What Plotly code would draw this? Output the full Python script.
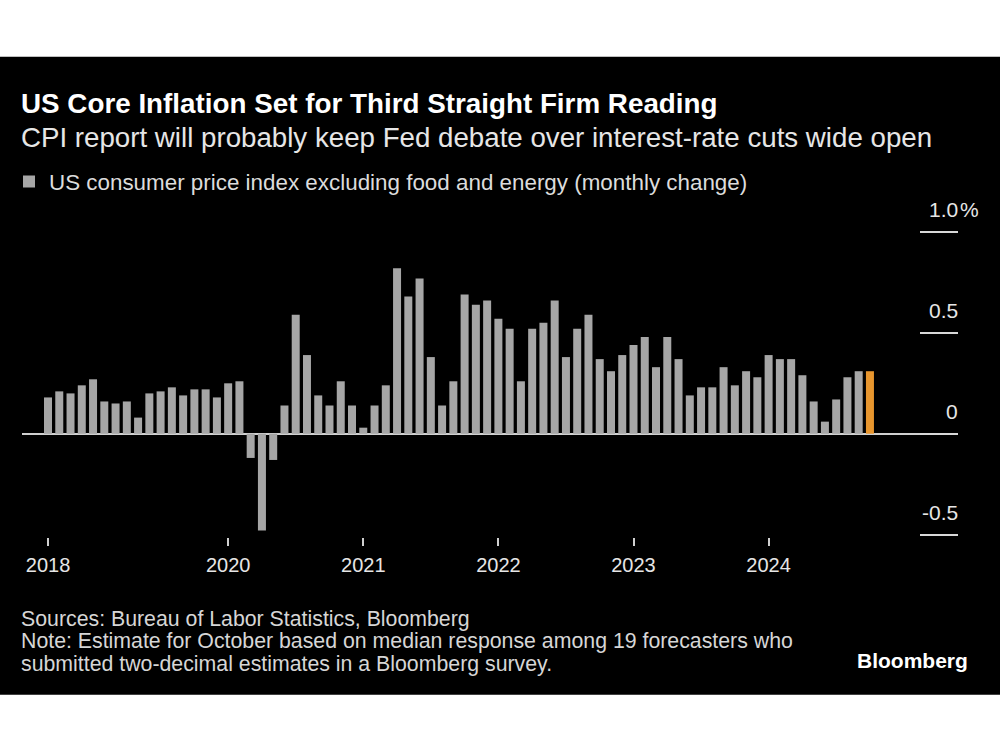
import pandas as pd
import plotly.graph_objects as go

# ---------------- data ----------------
start_month = "2018-09"
end_month = "2024-10"
months = [p.strftime("%Y-%m") for p in pd.period_range(start_month, end_month, freq="M")]

core_cpi_mom = [
    0.18, 0.21, 0.20, 0.24,                                              # 2018 Sep-Dec
    0.27, 0.16, 0.15, 0.16, 0.08, 0.20, 0.21, 0.23, 0.19, 0.22, 0.22, 0.18,  # 2019
    0.25, 0.26, -0.12, -0.48, -0.13, 0.14, 0.59, 0.39, 0.19, 0.14, 0.26, 0.14,  # 2020
    0.03, 0.14, 0.24, 0.82, 0.68, 0.77, 0.38, 0.14, 0.26, 0.69, 0.64, 0.66,  # 2021
    0.57, 0.52, 0.26, 0.52, 0.55, 0.66, 0.38, 0.52, 0.59, 0.37, 0.31, 0.39,  # 2022
    0.44, 0.48, 0.33, 0.48, 0.37, 0.19, 0.23, 0.23, 0.33, 0.24, 0.31, 0.28,  # 2023
    0.39, 0.37, 0.37, 0.29, 0.16, 0.06, 0.17, 0.28, 0.31, 0.31,              # 2024 Jan-Oct
]
estimate_month = "2024-10"

x_tick_months = ["2018-09", "2020-01", "2021-01", "2022-01", "2023-01", "2024-01"]
x_tick_labels = ["2018", "2020", "2021", "2022", "2023", "2024"]
y_tick_vals = [-0.5, 0, 0.5, 1.0]
y_tick_labels = ["-0.5", "0", "0.5", "1.0"]
y_unit = "%"

title = "US Core Inflation Set for Third Straight Firm Reading"
subtitle = "CPI report will probably keep Fed debate over interest-rate cuts wide open"
legend_name = "US consumer price index excluding food and energy (monthly change)"
source_lines = [
    "Sources: Bureau of Labor Statistics, Bloomberg",
    "Note: Estimate for October based on median response among 19 forecasters who",
    "submitted two-decimal estimates in a Bloomberg survey.",
]
logo = "Bloomberg"

# ---------------- style ----------------
GRAY = "#a6a6a6"
ORANGE = "#e8962e"
FONT = "Liberation Sans"
W, H = 1000, 750
ML, MR, MT, MB = 22, 42, 226.5, 213
plot_w = W - ML - MR
plot_h = H - MT - MB


def px_x(px):
    return (px - ML) / plot_w


def px_y(py):
    return (H - MB - py) / plot_h


colors = [ORANGE if m == estimate_month else GRAY for m in months]

fig = go.Figure()
fig.add_trace(go.Bar(
    x=months,
    y=core_cpi_mom,
    marker=dict(color=colors, line=dict(width=0)),
    name=legend_name,
    showlegend=True,
    hoverinfo="x+y",
))

n = len(months)
fig.update_layout(
    width=W, height=H,
    margin=dict(l=ML, r=MR, t=MT, b=MB, pad=0, autoexpand=False),
    paper_bgcolor="white",
    plot_bgcolor="black",
    bargap=0.29,
    font=dict(family=FONT, color="#e6e6e6"),
    showlegend=True,
    legend=dict(
        xref="container", yref="container",
        x=9 / W, y=1 - 182 / H, xanchor="left", yanchor="middle",
        font=dict(size=22.4, color="#dcdcdc", family=FONT),
        bgcolor="rgba(0,0,0,0)", itemclick=False, itemdoubleclick=False,
    ),
    xaxis=dict(
        type="category",
        categoryorder="array", categoryarray=months,
        range=[-2.31, n - 1 + 7.82],
        tickmode="array", tickvals=x_tick_months, ticktext=x_tick_labels,
        ticks="outside", ticklen=8, tickwidth=1.5, tickcolor="#d0d0d0",
        tickfont=dict(size=20, color="#e6e6e6", family=FONT),
        ticklabelstandoff=2,
        showgrid=False, showline=False, zeroline=False,
    ),
    yaxis=dict(
        range=[-0.512, 1.025],
        side="right",
        tickmode="array", tickvals=y_tick_vals,
        ticks="inside", ticklen=38, tickwidth=1.5, tickcolor="#d8d8d8",
        showticklabels=False,
        showgrid=False, showline=False,
        zeroline=True, zerolinecolor="#cfcfcf", zerolinewidth=2,
    ),
)

# black backdrop band
fig.add_shape(type="rect", xref="paper", yref="paper",
              x0=px_x(-5), x1=px_x(W + 5), y0=px_y(695), y1=px_y(56),
              fillcolor="black", line=dict(width=0), layer="below")

ann = []
# y tick labels
for v, lab in zip(y_tick_vals, y_tick_labels):
    ann.append(dict(x=1, xref="paper", y=v, yref="y", text=lab, showarrow=False,
                    xanchor="right", yanchor="bottom", yshift=9, xshift=2,
                    font=dict(size=21, color="#e6e6e6", family=FONT)))
# unit on top tick
ann.append(dict(x=1, xref="paper", y=max(y_tick_vals), yref="y", text=y_unit, showarrow=False,
                xanchor="left", yanchor="bottom", yshift=9, xshift=0,
                font=dict(size=21, color="#e6e6e6", family=FONT)))

ann.append(dict(x=px_x(19), y=px_y(103), xref="paper", yref="paper", text="<b>" + title + "</b>",
                showarrow=False, xanchor="left", yanchor="middle",
                font=dict(size=27.8, color="white", family=FONT)))
ann.append(dict(x=px_x(19), y=px_y(137), xref="paper", yref="paper", text=subtitle,
                showarrow=False, xanchor="left", yanchor="middle",
                font=dict(size=27.7, color="#e6e6e6", family=FONT)))
for i, line in enumerate(source_lines):
    ann.append(dict(x=px_x(19), y=px_y(619 + 22.5 * i), xref="paper", yref="paper", text=line,
                    showarrow=False, xanchor="left", yanchor="middle",
                    font=dict(size=21.3, color="#d6d6d6", family=FONT)))
ann.append(dict(x=px_x(970), y=px_y(661), xref="paper", yref="paper", text="<b>" + logo + "</b>",
                showarrow=False, xanchor="right", yanchor="middle",
                font=dict(size=21, color="white", family=FONT)))
fig.update_layout(annotations=ann)

fig.write_html("out.html", config={"displayModeBar": False},
               post_script="document.body.style.margin='0';")
